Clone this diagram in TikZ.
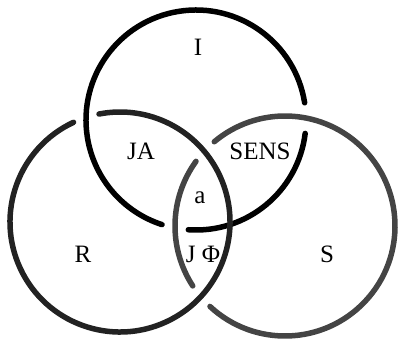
\documentclass[tikz,border=0pt]{standalone}
\usepackage{fontspec}
\setmainfont{Liberation Serif}
\definecolor{ringI}{HTML}{000000}
\definecolor{ringR}{HTML}{222222}
\definecolor{ringS}{HTML}{444444}
\begin{document}
\begin{tikzpicture}[x=1pt,y=1pt,
  ring/.style={line width=5.5pt,line cap=round},
  lbl/.style={anchor=base,inner sep=0pt,font=\fontsize{25}{30}\selectfont}]
\useasboundingbox (0,0) rectangle (398,341);
\coordinate (cI) at (196,221);
\coordinate (cR) at (120,119);
\coordinate (cS) at (285,115);
\def\rr{110}
% ring I (under S at two crossings)
\draw[ring,ringI] (cI) ++(9:\rr) arc[start angle=9,end angle=252,radius=\rr];
\draw[ring,ringI] (cI) ++(-94:\rr) arc[start angle=-94,end angle=-7,radius=\rr];
% ring R (under I at upper-left crossing)
\draw[ring,ringR] (cR) ++(115:\rr) arc[start angle=115,end angle=461,radius=\rr];
% ring S (under R at two crossings)
\draw[ring,ringS] (cS) ++(144:\rr) arc[start angle=144,end angle=213,radius=\rr];
\draw[ring,ringS] (cS) ++(227:\rr) arc[start angle=227,end angle=490,radius=\rr];
% labels
\node[lbl] (tI) at (198,286) {I};
\node[lbl] (tJA) at (141,182) {JA};
\node[lbl] (tSENS) at (260,182) {SENS};
\node[lbl] (ta) at (200,138) {a};
\node[lbl] (tR) at (83,79) {R};
\node[lbl] (tJF) at (203,79) {J Φ};
\node[lbl] (tS) at (327,79) {S};
\end{tikzpicture}
\end{document}
